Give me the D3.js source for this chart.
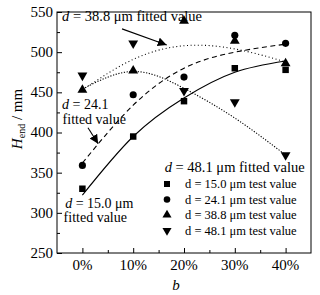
<!DOCTYPE html>
<html>
<head>
<meta charset="utf-8">
<script src="https://cdn.jsdelivr.net/npm/d3@7"></script>
<style>
  body { margin: 0; background: #fff; }
</style>
</head>
<body>
<div id="chart"></div>
<script>
// b values (%) on the x axis
const bValues = [0, 10, 20, 30, 40];
const xTickLabels = ["0%", "10%", "20%", "30%", "40%"];
const yTicks = [250, 300, 350, 400, 450, 500, 550];

// test values, H_end / mm
const test150 = [330, 395, 439, 480, 478];
const test241 = [359, 447, 469, 521, 511];
const test388 = [453, 477, 539, 514, 486];
const test481 = [471, 511, 452, 438, 372];

// fitted curves at the same b values
const fit150 = [322, 395, 443, 475, 489];
const fit241 = [362, 434, 480, 500, 510];
const fit388 = [453, 491, 508, 504, 488];
const fit481 = [454, 476, 455, 418, 372];

const legendLabels = ["d = 15.0 \u03bcm test value", "d = 24.1 \u03bcm test value",
                      "d = 38.8 \u03bcm test value", "d = 48.1 \u03bcm test value"];

const serif = "'Liberation Serif', monospace";

let width = 320,
    height = 295,
    margin = ({ top: 12, right: 9, bottom: 42, left: 57 });

const svg = d3.select("#chart")
    .append("svg")
    .attr("width", width)
    .attr("height", height);

let x = d3.scaleLinear()
    .domain([-5, 45])
    .range([margin.left, width - margin.right]);

let y = d3.scaleLinear()
    .domain([250, 550])
    .range([height - margin.bottom, margin.top]);

svg.append("defs").append("marker")
    .attr("id", "arrow")
    .attr("viewBox", "0 0 10 10")
    .attr("refX", 10).attr("refY", 5)
    .attr("markerWidth", 9).attr("markerHeight", 9)
    .attr("markerUnits", "userSpaceOnUse")
    .attr("orient", "auto")
    .append("path")
    .attr("d", "M0,0 L10,5 L0,10 z")
    .attr("fill", "#000");

// ticks, pointing inward
svg.append("g")
    .attr("transform", `translate(0,${height - margin.bottom})`)
    .call(d3.axisTop(x).tickValues(bValues).tickSize(5).tickFormat(""));
svg.append("g")
    .attr("transform", `translate(0,${height - margin.bottom})`)
    .call(d3.axisTop(x).tickValues(d3.range(5, 45, 10)).tickSize(3).tickFormat(""));
svg.append("g")
    .attr("transform", `translate(${margin.left},0)`)
    .call(d3.axisRight(y).tickValues(yTicks).tickSize(5).tickFormat(""));
svg.append("g")
    .attr("transform", `translate(${margin.left},0)`)
    .call(d3.axisRight(y).tickValues(d3.range(275, 550, 50)).tickSize(3).tickFormat(""));
svg.selectAll(".domain").remove();
svg.selectAll(".tick line").attr("stroke", "#000");

svg.append("rect")
    .attr("x", margin.left)
    .attr("y", margin.top)
    .attr("width", width - margin.left - margin.right)
    .attr("height", height - margin.top - margin.bottom)
    .attr("fill", "none")
    .attr("stroke", "#000")
    .attr("stroke-width", 1);

// tick labels
svg.selectAll(".xlab")
    .data(bValues)
    .join("text")
    .attr("class", "xlab")
    .attr("x", d => x(d))
    .attr("y", height - margin.bottom + 17)
    .attr("text-anchor", "middle")
    .style("font-family", serif)
    .style("font-size", "15px")
    .text((d, i) => xTickLabels[i]);

svg.selectAll(".ylab")
    .data(yTicks)
    .join("text")
    .attr("class", "ylab")
    .attr("x", margin.left - 4)
    .attr("y", d => y(d))
    .attr("dy", "0.33em")
    .attr("text-anchor", "end")
    .style("font-family", serif)
    .style("font-size", "15px")
    .text(d => d);

// axis titles
svg.append("text")
    .attr("x", 176)
    .attr("y", 290)
    .attr("text-anchor", "middle")
    .style("font-family", serif)
    .style("font-size", "15px")
    .style("font-style", "italic")
    .text("b");

let ytitle = svg.append("text")
    .attr("transform", "translate(22,119) rotate(-90)")
    .attr("text-anchor", "middle")
    .style("font-family", serif)
    .style("font-size", "15px");
ytitle.append("tspan").style("font-style", "italic").text("H");
ytitle.append("tspan").style("font-size", "10px").attr("dy", 3).text("end");
ytitle.append("tspan").attr("dy", -3).text(" / mm");

// fitted curves
let line = d3.line()
    .x((d, i) => x(bValues[i]))
    .y(d => y(d))
    .curve(d3.curveNatural);

const fits = [
    { values: fit150, dash: null },
    { values: fit241, dash: "5,3.5" },
    { values: fit388, dash: "1,2.6" },
    { values: fit481, dash: "1.2,1.6" }
];

svg.selectAll(".fit")
    .data(fits)
    .join("path")
    .attr("class", "fit")
    .attr("d", d => line(d.values))
    .attr("fill", "none")
    .attr("stroke", "#000")
    .attr("stroke-width", 1.1)
    .attr("stroke-dasharray", d => d.dash);

// test markers
const series = [
    { values: test150, type: d3.symbolSquare, size: 42, rot: 0 },
    { values: test241, type: d3.symbolCircle, size: 40, rot: 0 },
    { values: test388, type: d3.symbolTriangle, size: 42, rot: 0 },
    { values: test481, type: d3.symbolTriangle, size: 42, rot: 180 }
];

series.forEach(s => {
    svg.append("g")
        .selectAll("path")
        .data(s.values)
        .join("path")
        .attr("d", d3.symbol().type(s.type).size(s.size))
        .attr("transform", (d, i) => `translate(${x(bValues[i])},${y(d)}) rotate(${s.rot})`)
        .attr("fill", "#000");
});

// annotations
function note(xv, yv, parts, size) {
    let t = svg.append("text")
        .attr("x", x(xv))
        .attr("y", y(yv))
        .style("font-family", serif)
        .style("font-size", size + "px");
    parts.forEach(p => {
        t.append("tspan")
            .style("font-style", p[1] ? "italic" : "normal")
            .text(p[0]);
    });
}

note(-4, 539, [["d", true], [" = 38.8 \u03bcm fitted value", false]], 14.5);
note(-4, 429, [["d", true], [" = 24.1", false]], 14);
note(-3.9, 410.5, [["fitted value", false]], 14);
note(-3.4, 306, [["d", true], [" = 15.0 \u03bcm", false]], 14);
note(-3.7, 288, [["fitted value", false]], 14);
note(16.2, 350.5, [["d", true], [" = 48.1 \u03bcm fitted value", false]], 14.5);

function arrow(x1, y1, x2, y2) {
    svg.append("line")
        .attr("x1", x(x1)).attr("y1", y(y1))
        .attr("x2", x(x2)).attr("y2", y(y2))
        .attr("stroke", "#000")
        .attr("stroke-width", 1.1)
        .attr("marker-end", "url(#arrow)");
}
arrow(7.8, 529, 16.6, 509);
arrow(1.1, 406, 3.1, 386);

// legend
let legend = svg.append("g")
    .attr("transform", "translate(167,184)");

legend.selectAll("path")
    .data(series)
    .join("path")
    .attr("d", d => d3.symbol().type(d.type).size(d.size * 0.85)())
    .attr("transform", (d, i) => `translate(0,${i * 15.5}) rotate(${d.rot})`)
    .attr("fill", "#000");

legend.selectAll("text")
    .data(legendLabels)
    .join("text")
    .attr("x", 18)
    .attr("y", (d, i) => i * 15.5)
    .attr("dy", "0.35em")
    .style("font-family", serif)
    .style("font-size", "12.5px")
    .text(d => d);
</script>
</body>
</html>
